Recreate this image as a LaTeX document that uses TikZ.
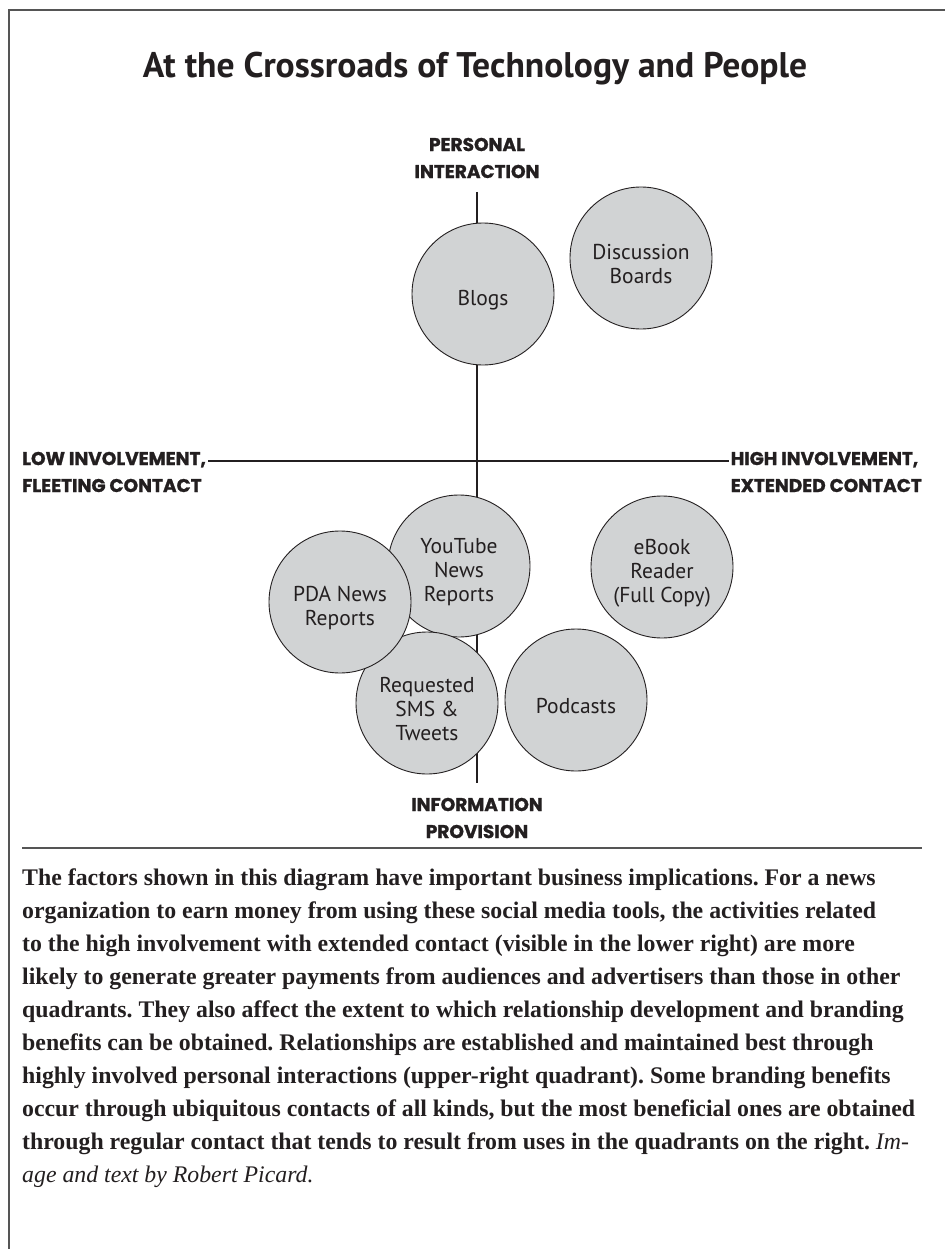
\documentclass[tikz,border=0pt]{standalone}
\usepackage{fontspec}
\setmainfont{Liberation Serif}
\newfontfamily\titlefont{PT Sans}
\newfontfamily\axisfont{Poppins}[BoldFeatures={FakeBold=1.2}]
\newfontfamily\bubblefont{PT Sans}
\newcommand\bubstrut{\rule{0pt}{27pt}}
\definecolor{ink}{HTML}{231F20}
\definecolor{bubblefill}{HTML}{D1D3D4}
\definecolor{framegray}{HTML}{555555}
\tikzset{
  frameline/.style={draw=framegray, line width=1.3pt},
  axisline/.style={draw=ink, line width=1.3pt},
  bubble/.style={circle, draw=ink, line width=0.9pt, fill=bubblefill, minimum size=142pt, inner sep=0pt,
    align=center, text=ink, font=\bubblefont\fontsize{21.5}{24}\selectfont},
  axislabel/.style={text=ink, inner sep=0pt, font=\axisfont\bfseries\fontsize{18.5}{27}\selectfont},
  titlestyle/.style={text=ink, inner sep=0pt, font=\titlefont\bfseries\fontsize{35.6}{40}\selectfont},
  paratext/.style={text=ink, inner sep=0pt, align=left, anchor=north west, font=\frenchspacing\bfseries\fontsize{23.8}{33}\selectfont}
}
\begin{document}
\begin{tikzpicture}[x=1pt,y=-1pt]
\useasboundingbox (0,0) rectangle (945,1249);
% frame (left and top edges)
\draw[frameline] (9,1249) -- (9,10) -- (945,10);
% title
\node[titlestyle] (title) at (475,69) {At the Crossroads of Technology and People};
% axis labels
\node[axislabel, align=center] (pi) at (477,158) {PERSONAL\\INTERACTION};
\node[axislabel, align=center] (ip) at (477,818) {INFORMATION\\PROVISION};
\node[axislabel, align=left, anchor=west] (low) at (22,472) {LOW INVOLVEMENT,\\FLEETING CONTACT};
\node[axislabel, align=left, anchor=east] (high) at (922,472) {HIGH INVOLVEMENT,\\EXTENDED CONTACT};
% axes
\coordinate (vtop) at (477,192);
\coordinate (vbot) at (477,783);
\coordinate (hy) at (0,461);
\coordinate (hl) at ([xshift=2pt]low.east |- hy);
\coordinate (hr) at ([xshift=-2pt]high.west |- hy);
\draw[axisline] (vtop) -- (vbot);
\draw[axisline] (hl) -- (hr);
% bubbles
\node[bubble] (blogs) at (483,294) {\bubstrut Blogs};
\node[bubble] (disc) at (641,258) {\bubstrut Discussion\\Boards};
\node[bubble] (yt) at (459,566) {\bubstrut YouTube\\News\\Reports};
\node[bubble] (ebook) at (662,567) {\bubstrut eBook\\Reader\\(Full Copy)};
\node[bubble] (sms) at (427,703) {\bubstrut Requested\\SMS \&\\Tweets};
\node[bubble] (pda) at (340,602) {\bubstrut PDA News\\Reports};
\node[bubble] (pod) at (576,700) {\bubstrut Podcasts};
% rule
\coordinate (rl) at (22,848);
\coordinate (rr) at (922,848);
\draw[frameline] (rl) -- (rr);
% paragraph
\node[paratext] (para) at (22,869) {The factors shown in this diagram have important business implications. For a news\\
organization to earn money from using these social media tools, the activities related\\
to the high involvement with extended contact (visible in the lower right) are more\\
likely to generate greater payments from audiences and advertisers than those in other\\
quadrants. They also affect the extent to which relationship development and branding\\
benefits can be obtained. Relationships are established and maintained best through\\
highly involved personal interactions (upper-right quadrant). Some branding benefits\\
occur through ubiquitous contacts of all kinds, but the most beneficial ones are obtained\\
through regular contact that tends to result from uses in the quadrants on the right. {\mdseries\itshape Im-}\\
{\mdseries\itshape age and text by Robert Picard.}};
\end{tikzpicture}
\end{document}
